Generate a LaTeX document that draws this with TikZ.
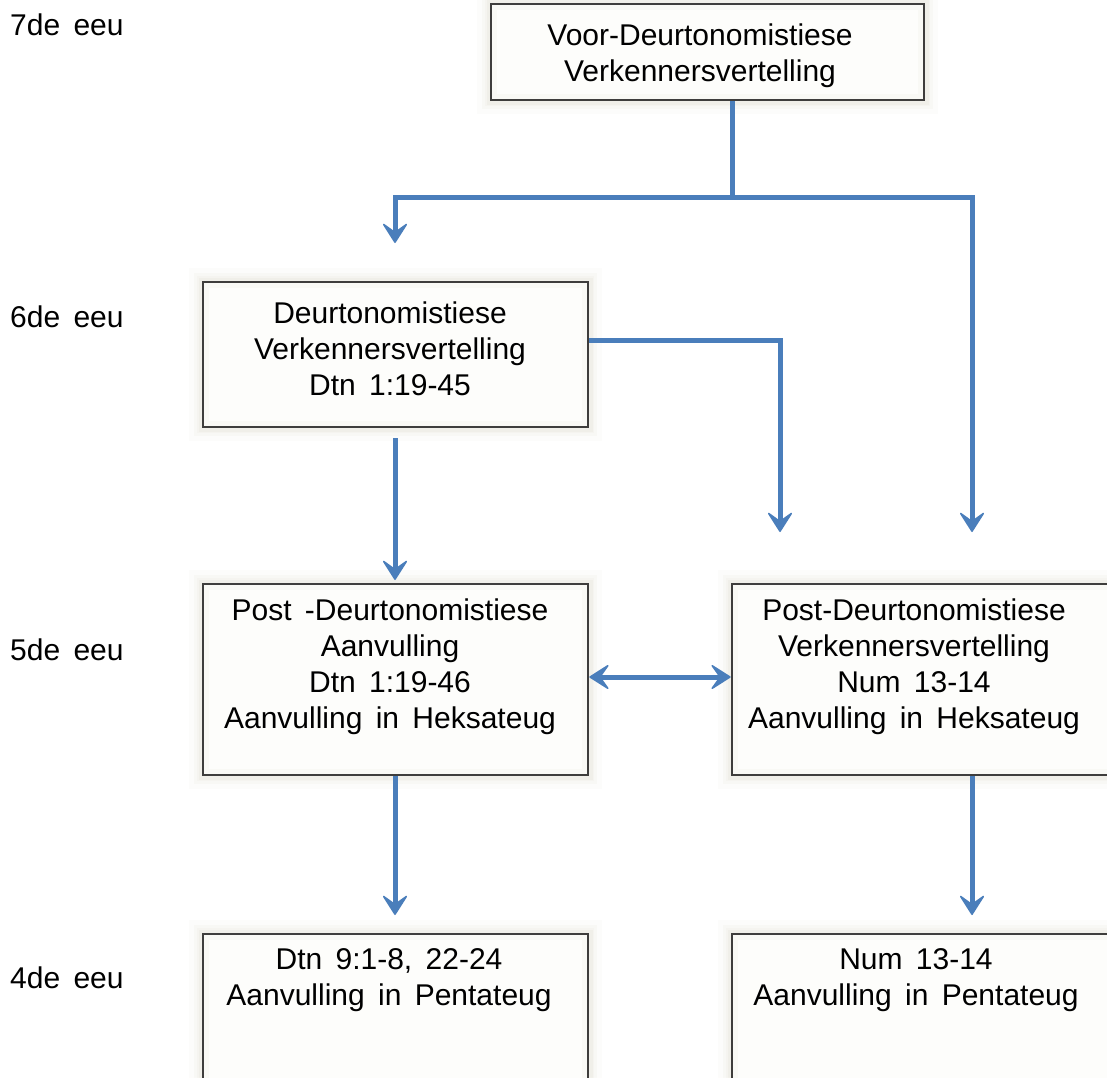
\documentclass[tikz,border=0pt]{standalone}
\usepackage{fontspec}
\setmainfont{Liberation Sans}[WordSpace=1.6]
\usetikzlibrary{arrows.meta}
\definecolor{arrowblue}{HTML}{4A7EBB}
\definecolor{boxborder}{HTML}{333333}
\definecolor{boxfill}{HTML}{FDFDFB}
\definecolor{haloc}{HTML}{CFC8B4}
\tikzset{
  boxnode/.style={rectangle, inner sep=0pt, draw=boxborder, line width=2.6pt, fill=boxfill,
    preaction={draw=haloc, line width=28pt, opacity=0.05},
    preaction={draw=haloc, line width=18pt, opacity=0.07},
    preaction={draw=haloc, line width=9pt, opacity=0.10},
    postaction={draw=haloc, line width=12pt, opacity=0.07}},
  txt/.style={inner sep=0pt, align=center, font=\fontsize{30}{36}\selectfont, text=black},
  yr/.style={inner sep=0pt, anchor=west, font=\fontsize{30}{36}\selectfont, text=black},
  conn/.style={draw=arrowblue, line width=5pt, line cap=butt, line join=miter},
  chev/.tip={Stealth[length=22pt 0, width=28pt 0, inset=10pt 0, line width=1.5pt, round]},
  arr/.style={conn, -chev},
  darr/.style={conn, chev-chev}
}
\begin{document}
\begin{tikzpicture}[x=1pt, y=-1pt]
\useasboundingbox (0,0) rectangle (1107,1077);
\clip (0,0) rectangle (1107,1077);
\fill[white] (0,0) rectangle (1107,1077);

% year labels
\node[yr] (y7) at (10,25) {7de eeu};
\node[yr] (y6) at (10,317) {6de eeu};
\node[yr] (y5) at (10,650) {5de eeu};
\node[yr] (y4) at (10,978) {4de eeu};

% boxes
\node[boxnode, minimum width=433pt, minimum height=96pt] (top) at (707.5,52) {};
\node[boxnode, minimum width=385pt, minimum height=145pt] (b2) at (395.5,354.5) {};
\node[boxnode, minimum width=385pt, minimum height=191pt] (b3l) at (395.5,679.5) {};
\node[boxnode, minimum width=400pt, minimum height=191pt] (b3r) at (932,679.5) {};
\node[boxnode, minimum width=385pt, minimum height=180pt] (b4l) at (395.5,1024) {};
\node[boxnode, minimum width=400pt, minimum height=180pt] (b4r) at (932,1024) {};

% texts
\node[txt] (ttop) at (700,56) {Voor-Deurtonomistiese\\Verkennersvertelling};
\node[txt] (t2) at (390,349) {Deurtonomistiese\\Verkennersvertelling\\Dtn 1:19-45};
\node[txt] (t3l) at (390,667) {Post -Deurtonomistiese\\Aanvulling\\Dtn 1:19-46\\Aanvulling in Heksateug};
\node[txt] (t3r) at (914,667) {Post-Deurtonomistiese\\Verkennersvertelling\\Num 13-14\\Aanvulling in Heksateug};
\node[txt] (t4l) at (389,980) {Dtn 9:1-8, 22-24\\Aanvulling in Pentateug};
\node[txt] (t4r) at (916,980) {Num 13-14\\Aanvulling in Pentateug};

% connector coordinates
\coordinate (j1) at (732,197);
\coordinate (e1) at (395,243);
\coordinate (e2) at (972,532);
\coordinate (c3) at (780,340);
\coordinate (e3) at (780,532);
\coordinate (s2) at (395,438);
\coordinate (e4) at (395,580);
\coordinate (e5) at (395,915);
\coordinate (e6) at (972,915);

% connectors
\draw[conn] (top.south -| j1) -- (j1);
\draw[arr] (j1) -| (e1);
\draw[arr] (j1) -| (e2);
\draw[arr] (b2.east |- c3) -- (c3) -- (e3);
\draw[arr] (s2) -- (e4);
\draw[darr] (b3l.east |- 0,677) -- (b3r.west |- 0,677);
\draw[arr] (b3l.south -| e5) -- (e5);
\draw[arr] (b3r.south -| e6) -- (e6);
\end{tikzpicture}
\end{document}
